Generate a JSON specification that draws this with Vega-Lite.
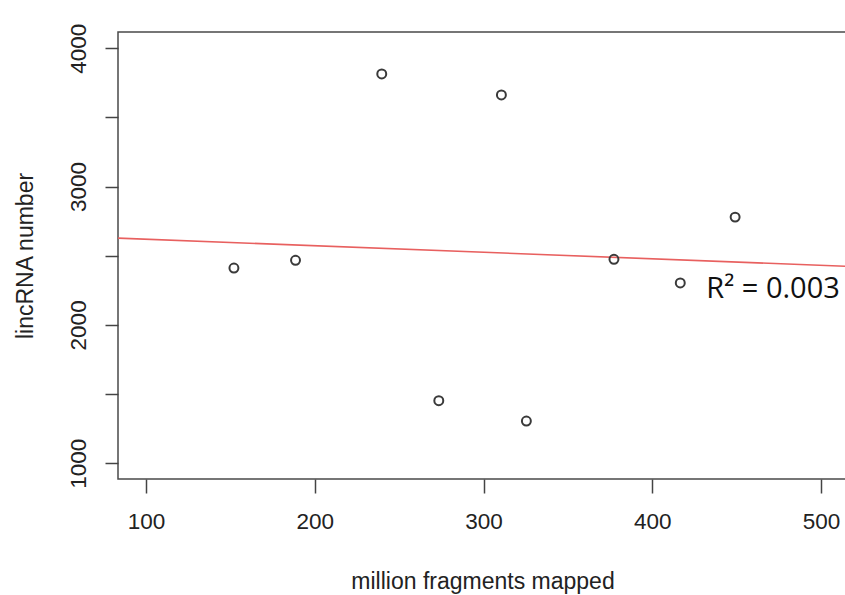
{
  "$schema": "https://vega.github.io/schema/vega-lite/v6.json",
  "width": 729,
  "height": 447,
  "autosize": {"type": "none"},
  "padding": {"left": 118, "top": 32, "right": 0, "bottom": 116},
  "background": "white",
  "config": {
    "view": {"stroke": "#4a4a4a", "strokeWidth": 1.5},
    "font": "Liberation Sans"
  },
  "datasets": {
    "points": [
      {"fragments": 152.1, "lincRNA": 2411},
      {"fragments": 188.6, "lincRNA": 2467},
      {"fragments": 239.7, "lincRNA": 3814},
      {"fragments": 310.6, "lincRNA": 3662},
      {"fragments": 377.3, "lincRNA": 2474},
      {"fragments": 416.6, "lincRNA": 2303},
      {"fragments": 449.1, "lincRNA": 2779},
      {"fragments": 273.5, "lincRNA": 1452},
      {"fragments": 325.4, "lincRNA": 1305}
    ],
    "fit": [
      {"fragments": 83.4, "lincRNA": 2627},
      {"fragments": 515.4, "lincRNA": 2423}
    ],
    "label": [
      {"fragments": 432.0, "lincRNA": 2192, "text": "R² = 0.003"}
    ]
  },
  "layer": [
    {
      "data": {"name": "fit"},
      "mark": {"type": "line", "color": "#e8605f", "strokeWidth": 1.6, "clip": true},
      "encoding": {
        "x": {"field": "fragments", "type": "quantitative",
              "scale": {"domain": [83.4, 515.4], "nice": false, "zero": false},
              "axis": {
                "values": [100, 200, 300, 400, 500],
                "title": "million fragments mapped",
                "grid": false, "domain": false,
                "tickSize": 14, "tickColor": "#444", "tickWidth": 1.5,
                "labelFont": "Liberation Sans", "labelFontSize": 22.5, "labelColor": "#222",
                "labelPadding": 17, "labelFlush": false,
                "titleFont": "Liberation Sans", "titleFontSize": 23, "titleFontWeight": "normal", "titleColor": "#222",
                "titleBaseline": "alphabetic", "titleY": 109
              }},
        "y": {"field": "lincRNA", "type": "quantitative",
              "scale": {"domain": [886, 4117], "nice": false, "zero": false},
              "axis": {
                "values": [1000, 1500, 2000, 2500, 3000, 3500, 4000],
                "labelExpr": "datum.value % 1000 === 0 ? datum.label : ''",
                "format": "d",
                "title": "lincRNA number",
                "grid": false, "domain": false,
                "tickSize": 13, "tickColor": "#444", "tickWidth": 1.5,
                "labelFont": "Liberation Sans", "labelFontSize": 22.5, "labelColor": "#222",
                "labelAngle": -90, "labelAlign": "center", "labelBaseline": "alphabetic",
                "labelPadding": 20, "labelFlush": false,
                "titleFont": "Liberation Sans", "titleFontSize": 23, "titleFontWeight": "normal", "titleColor": "#222",
                "titleAngle": -90, "titleAlign": "center", "titleBaseline": "alphabetic",
                "titleX": -86, "titleY": 223.5
              }}
      }
    },
    {
      "data": {"name": "points"},
      "mark": {"type": "point", "shape": "circle", "filled": false, "color": "#3a3a3a", "strokeWidth": 2, "size": 80, "opacity": 1},
      "encoding": {
        "x": {"field": "fragments", "type": "quantitative"},
        "y": {"field": "lincRNA", "type": "quantitative"}
      }
    },
    {
      "data": {"name": "label"},
      "mark": {"type": "text", "align": "left", "baseline": "alphabetic", "font": "Open Sans", "fontSize": 29, "color": "#111"},
      "encoding": {
        "x": {"field": "fragments", "type": "quantitative"},
        "y": {"field": "lincRNA", "type": "quantitative"},
        "text": {"field": "text"}
      }
    }
  ]
}
